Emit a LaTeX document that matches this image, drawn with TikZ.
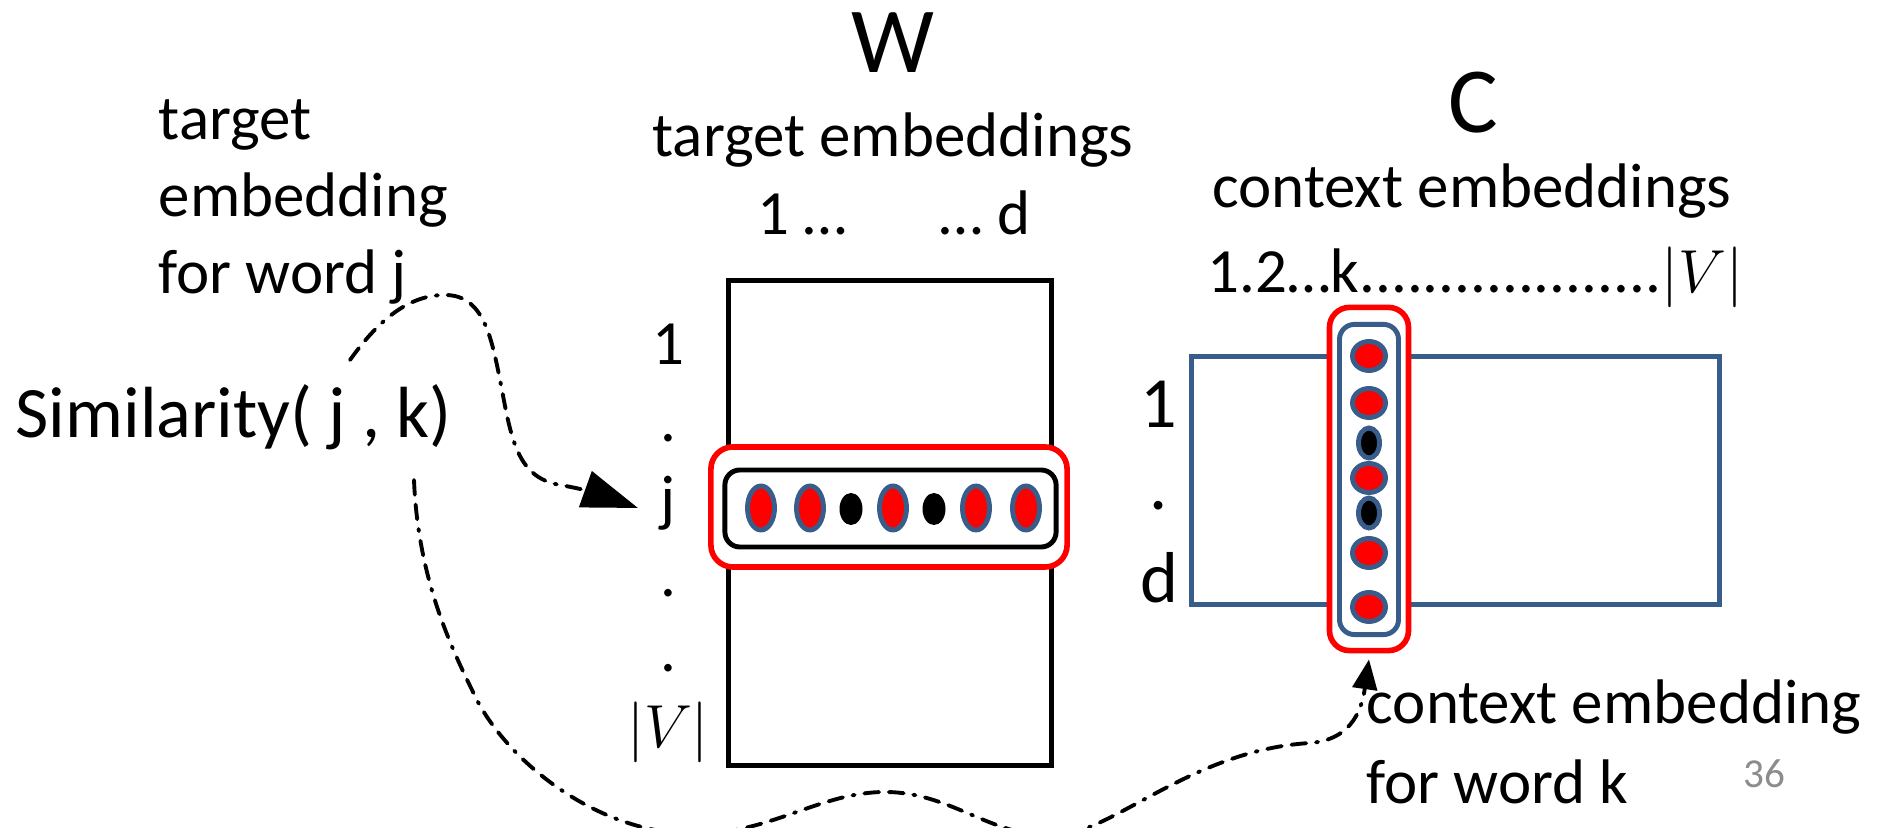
\documentclass[tikz,border=0pt]{standalone}
\usepackage{fontspec}
\setmainfont{Carlito}
\usetikzlibrary{arrows.meta}
\definecolor{frameblue}{RGB}{56,93,138}
\definecolor{hired}{RGB}{255,0,0}
\definecolor{pagegray}{RGB}{140,140,140}

\begin{document}
\begin{tikzpicture}[x=0.01cm, y=-0.01cm,
  lbl/.style={inner sep=0pt, font=\fontsize{17.9pt}{21.5pt}\selectfont},
  bigtitle/.style={inner sep=0pt, font=\fontsize{26.5pt}{31pt}\selectfont},
  simlbl/.style={inner sep=0pt, font=\fontsize{20.6pt}{24pt}\selectfont},
  rowlbl/.style={inner sep=0pt, font=\fontsize{20.5pt}{24pt}\selectfont},
  pagenum/.style={inner sep=0pt, text=pagegray, font=\fontsize{11.7pt}{14pt}\selectfont},
  matbox/.style={draw, inner sep=0pt, line width=1.4pt},
  selbox/.style={draw=hired, fill=white, line width=1.6pt, inner sep=0pt},
  vecbox/.style={draw, line width=1.4pt, inner sep=0pt},
  redcell/.style={draw=frameblue, fill=hired, line width=1.4pt},
  blackcell/.style={fill=black},
  blackcellb/.style={draw=frameblue, fill=black, line width=1.4pt},
  conn/.style={line width=1.1pt, line cap=round,
    dash pattern=on 4.2pt off 2.8pt on 4.2pt off 2.8pt on 0.6pt off 2.8pt}
]
\useasboundingbox (0,0) rectangle (1887,828);

% matrix W (target embeddings)
\node[matbox, minimum width=3.22cm, minimum height=4.84cm] (Wmat) at (890,523) {};
% matrix C (context embeddings)
\node[matbox, draw=frameblue, minimum width=5.27cm, minimum height=2.47cm] (Cmat) at (1455.5,480.5) {};

% selected row of W
\node[selbox, rounded corners=0.22cm, minimum width=3.56cm, minimum height=1.20cm] (wsel) at (889,507) {};
\node[vecbox, rounded corners=0.15cm, minimum width=3.31cm, minimum height=0.77cm] (wvec) at (890.5,508.5) {};
\foreach \x in {761,810,893,976,1026}
  \draw[redcell] (\x,508) ellipse [x radius=13.5, y radius=22];
\foreach \x in {851,934}
  \fill[blackcell] (\x,509) ellipse [x radius=11.5, y radius=16];

% selected column of C
\node[selbox, rounded corners=0.2cm, minimum width=0.79cm, minimum height=3.43cm] (csel) at (1369,479) {};
\node[vecbox, draw=frameblue, rounded corners=0.15cm, minimum width=0.59cm, minimum height=3.10cm] (cvec) at (1369,479.5) {};
\foreach \y in {356,403,478,553,607}
  \draw[redcell] (1369,\y) ellipse [x radius=16.5, y radius=14.5];
\foreach \y in {443,513}
  \draw[blackcellb] (1369,\y) ellipse [x radius=10.5, y radius=15];

% headings of W
\node[bigtitle, anchor=base] (Wname) at (893,73) {W};
\node[lbl, anchor=base] (Wsub) at (893,157) {target embeddings};
\node[lbl, anchor=base west] (Wcolfirst) at (757,235) {1 …};
\node[lbl, anchor=base east] (Wcollast) at (1031,235) {… d};

% row indices of W
\node[lbl, anchor=base] (wr1) at (668,365) {1};
\node[lbl, anchor=base] (wr2) at (668,442) {.};
\node[lbl, anchor=base] (wrj) at (668,520) {j};
\node[lbl, anchor=base] (wr4) at (668,597) {.};
\node[lbl, anchor=base] (wr5) at (668,672) {.};
\node[lbl, anchor=base] (wrV) at (668,748) {$|V|$};

% headings of C
\node[bigtitle, anchor=base] (Cname) at (1473,133) {C};
\node[lbl, anchor=base] (Csub) at (1472,208) {context embeddings};
\node[lbl, anchor=base west] (Ccols) at (1207,293) {1.2…k...................$|V|$};

% row indices of C
\node[rowlbl, anchor=base] (cr1) at (1159,428) {1};
\node[rowlbl, anchor=base] (cr2) at (1159,510) {.};
\node[rowlbl, anchor=base] (crd) at (1159,603) {d};

% captions
\node[lbl, anchor=base west] (tA) at (158,140) {target};
\node[lbl, anchor=base west] (tB) at (158,217) {embedding};
\node[lbl, anchor=base west] (tC) at (158,294) {for word j};
\node[simlbl, anchor=base west] (sim) at (15,438) {Similarity( j , k)};
\node[lbl, anchor=base west] (cA) at (1366,724) {context embedding};
\node[lbl, anchor=base west] (cB) at (1366,804) {for word k};
\node[pagenum, anchor=base west] (pg) at (1743,788) {36};

% connectors
\coordinate (s1) at (350,360);
\coordinate (jtip) at (638,508);
\draw[conn, -{Triangle[length=15.9pt,width=10.7pt]}]
  (s1) .. controls (380,318) and (410,295) .. (445,295)
       .. controls (485,295) and (492,340) .. (502,390)
       .. controls (512,445) and (520,478) .. (560,485)
       .. controls (590,490) and (610,498) .. (jtip);

\coordinate (s2) at (414,480);
\coordinate (ctip) at ([yshift=-0.06cm]csel.south);
\draw[conn, -{Triangle[length=8.5pt,width=7pt]}]
  (s2) .. controls (418,580) and (452,650) .. (478,702)
       .. controls (512,765) and (600,834) .. (695,834)
       .. controls (770,834) and (820,792) .. (885,792)
       .. controls (950,792) and (990,836) .. (1052,836)
       .. controls (1110,836) and (1190,750) .. (1310,743)
       .. controls (1348,740) and (1361,715) .. (ctip);
\end{tikzpicture}
\end{document}
